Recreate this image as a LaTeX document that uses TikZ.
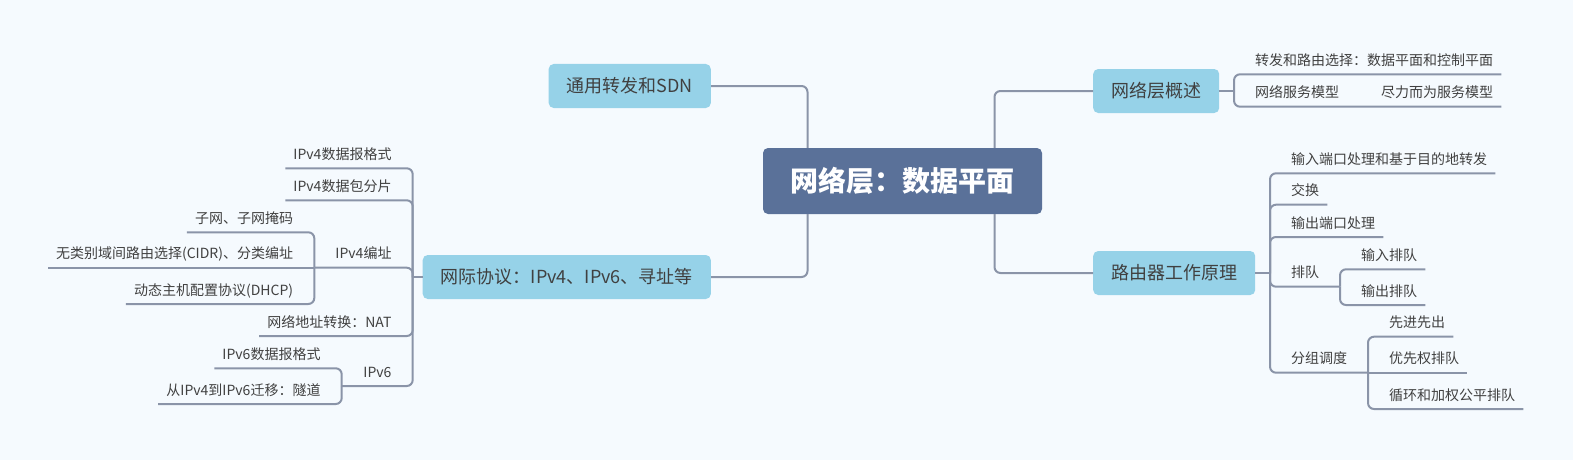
\documentclass[tikz,border=0pt]{standalone}
\usepackage{fontspec}
\setmainfont{Noto Sans CJK SC}
\definecolor{bgcol}{HTML}{F5FAFE}
\definecolor{rootcol}{HTML}{5A7199}
\definecolor{topiccol}{HTML}{96D2E8}
\definecolor{linkcol}{HTML}{8A94A8}
\definecolor{textcol}{HTML}{404040}
\tikzset{
  link/.style={draw=linkcol, line width=2pt},
  branch/.style={link, rounded corners=6pt},
  root/.style={fill=rootcol, rounded corners=5pt, text=white, inner xsep=27.5pt,
    minimum height=66pt, font=\fontsize{28}{32}\selectfont\bfseries},
  topic/.style={fill=topiccol, rounded corners=5pt, text=textcol, inner xsep=18pt,
    minimum height=44pt, font=\fontsize{18}{22}\selectfont},
  leaf/.style={text=textcol, inner xsep=8pt, inner ysep=4pt, text height=10pt,
    text depth=4.7pt, font=\fontsize{14}{16}\selectfont},
}
\begin{document}
\begin{tikzpicture}[x=1pt, y=-1pt]
  \fill[bgcol] (0,0) rectangle (1573,460);
  \useasboundingbox (0,0) rectangle (1573,460);

  % central topic and main branches
  \node[root] (root) at (902.5,181) {网络层：数据平面};
  \node[topic, anchor=east] (sdn) at (711,86) {通用转发和SDN};
  \node[topic, anchor=east] (ip) at (711,277) {网际协议：IPv4、IPv6、寻址等};
  \node[topic, anchor=west] (ovw) at (1093,91) {网络层概述};
  \node[topic, anchor=west] (rtr) at (1093,273) {路由器工作原理};
  \draw[branch] ([xshift=-95pt]root.north) |- (sdn.east);
  \draw[branch] ([xshift=-95pt]root.south) |- (ip.east);
  \draw[branch] ([xshift=92pt]root.north) |- (ovw.west);
  \draw[branch] ([xshift=92pt]root.south) |- (rtr.west);

  % overview
  \coordinate (ovw-hub) at (1234,91);
  \draw[link] (ovw.east) -- (ovw-hub);
  \node[leaf, anchor=south west] (fwd) at (1247,74.3) {转发和路由选择：数据平面和控制平面};
  \node[leaf, anchor=south west] (svc) at (1247,106.7) {网络服务模型};
  \node[leaf, anchor=south west] (best) at (1373,106.7) {尽力而为服务模型};
  \draw[branch] (ovw-hub) |- (fwd.south west) -- (fwd.south east);
  \draw[branch] (ovw-hub) |- (svc.south west) -- (best.south east);

  % router
  \coordinate (rtr-hub) at (1270,273);
  \draw[link] (rtr.east) -- (rtr-hub);
  \node[leaf, anchor=south west] (inport) at (1283,173.3) {输入端口处理和基于目的地转发};
  \node[leaf, anchor=south west] (switch) at (1283,204.7) {交换};
  \node[leaf, anchor=south west] (outport) at (1283,237) {输出端口处理};
  \node[leaf, anchor=south west] (queue) at (1283,286.7) {排队};
  \node[leaf, anchor=south west] (sched) at (1283,372.7) {分组调度};
  \draw[branch] (rtr-hub) |- (inport.south west) -- (inport.south east);
  \draw[branch] (rtr-hub) |- (switch.south west) -- (switch.south east);
  \draw[branch] (rtr-hub) |- (outport.south west) -- (outport.south east);
  \coordinate (queue-hub) at (1340,286.7);
  \coordinate (sched-hub) at (1368,372.7);
  \draw[branch] (rtr-hub) |- (queue.south west) -- (queue-hub);
  \draw[branch] (rtr-hub) |- (sched.south west) -- (sched-hub);
  \node[leaf, anchor=south west] (inq) at (1353,269.3) {输入排队};
  \node[leaf, anchor=south west] (outq) at (1353,305) {输出排队};
  \draw[branch] (queue-hub) |- (inq.south west) -- (inq.south east);
  \draw[branch] (queue-hub) |- (outq.south west) -- (outq.south east);
  \node[leaf, anchor=south west] (fifo) at (1381,336.7) {先进先出};
  \node[leaf, anchor=south west] (prio) at (1381,372.7) {优先权排队};
  \node[leaf, anchor=south west] (wfq) at (1381,409) {循环和加权公平排队};
  \draw[branch] (sched-hub) |- (fifo.south west) -- (fifo.south east);
  \draw[branch] (sched-hub) -- (prio.south east);
  \draw[branch] (sched-hub) |- (wfq.south west) -- (wfq.south east);

  % internet protocol
  \coordinate (ip-hub) at (412.7,277);
  \draw[link] (ip.west) -- (ip-hub);
  \node[leaf, anchor=south east] (v4fmt) at (399.7,168.3) {IPv4数据报格式};
  \node[leaf, anchor=south east] (frag) at (399.7,200.3) {IPv4数据包分片};
  \node[leaf, anchor=south east] (addr) at (399.7,267.7) {IPv4编址};
  \node[leaf, anchor=south east] (nat) at (399.7,336) {网络地址转换：NAT};
  \node[leaf, anchor=south east] (v6) at (399.7,386) {IPv6};
  \draw[branch] (ip-hub) |- (v4fmt.south east) -- (v4fmt.south west);
  \draw[branch] (ip-hub) |- (frag.south east) -- (frag.south west);
  \draw[branch] (ip-hub) |- (nat.south east) -- (nat.south west);
  \coordinate (addr-hub) at (314.3,267.7);
  \coordinate (v6-hub) at (341.7,386);
  \draw[branch] (ip-hub) |- (addr.south east) -- (addr-hub);
  \draw[branch] (ip-hub) |- (v6.south east) -- (v6-hub);
  \node[leaf, anchor=south east] (subnet) at (301.3,232.3) {子网、子网掩码};
  \node[leaf, anchor=south east] (cidr) at (301.3,267.7) {无类别域间路由选择(CIDR)、分类编址};
  \node[leaf, anchor=south east] (dhcp) at (301.3,304) {动态主机配置协议(DHCP)};
  \draw[branch] (addr-hub) |- (subnet.south east) -- (subnet.south west);
  \draw[branch] (addr-hub) -- (cidr.south west);
  \draw[branch] (addr-hub) |- (dhcp.south east) -- (dhcp.south west);
  \node[leaf, anchor=south east] (v6fmt) at (328.7,368.3) {IPv6数据报格式};
  \node[leaf, anchor=south east] (tunnel) at (328.7,404) {从IPv4到IPv6迁移：隧道};
  \draw[branch] (v6-hub) |- (v6fmt.south east) -- (v6fmt.south west);
  \draw[branch] (v6-hub) |- (tunnel.south east) -- (tunnel.south west);
\end{tikzpicture}
\end{document}
